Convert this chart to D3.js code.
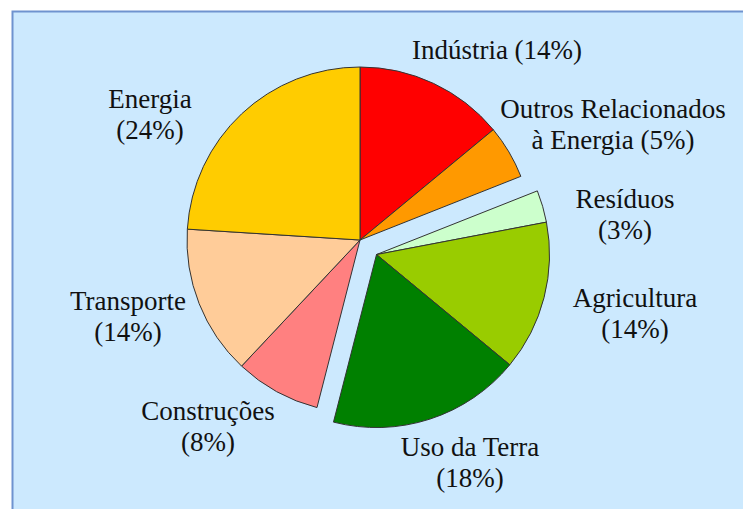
<!DOCTYPE html>
<html>
<head>
<meta charset="utf-8">
<script src="https://cdn.jsdelivr.net/npm/d3@7/dist/d3.min.js"></script>
<style>
    body { margin: 0; background: #ffffff; }
    svg { display: block; }
</style>
</head>
<body>
<div id="chart"></div>
<script>
// setores e participação (%), sentido horário a partir do topo
var sectors = ["Indústria", "Outros Relacionados à Energia", "Resíduos", "Agricultura",
               "Uso da Terra", "Construções", "Transporte", "Energia"];
var shares = [14, 5, 3, 14, 18, 8, 14, 24];
var labelLines = [
    ["Indústria (14%)"],
    ["Outros Relacionados", "à Energia (5%)"],
    ["Resíduos", "(3%)"],
    ["Agricultura", "(14%)"],
    ["Uso da Terra", "(18%)"],
    ["Construções", "(8%)"],
    ["Transporte", "(14%)"],
    ["Energia", "(24%)"]
];
// fatias destacadas (grupo agricultura / uso da terra / resíduos)
var exploded = ["Resíduos", "Agricultura", "Uso da Terra"];

var colors = ["#ff0000", "#ff9900", "#ccffcc", "#99cc00", "#008000", "#ff8080", "#ffcc99", "#ffcc00"];

// posição dos rótulos (centro, linha de base da 1a linha)
var labelPos = [
    [497, 59], [613, 118], [625, 208], [635, 307],
    [470, 456], [208, 420], [128, 310], [150, 108]
];

var width = 743, height = 509;
var cx = 360, cy = 240, radius = 173, explode = 22;

var svg = d3.select("#chart").append("svg")
    .attr("width", width)
    .attr("height", height);

svg.append("rect")
    .attr("x", 12.5)
    .attr("y", 11.5)
    .attr("width", width)
    .attr("height", height)
    .attr("fill", "#cce9fe")
    .attr("stroke", "#6f93cf")
    .attr("stroke-width", 2);

var data = sectors.map(function(d, i) {
    return {name: d, value: shares[i], color: colors[i], lines: labelLines[i], pos: labelPos[i]};
});

var pie = d3.pie()
    .sort(null)
    .value(function(d) { return d.value; });

var arcs = pie(data);

// ângulo médio do grupo destacado
var group = arcs.filter(function(a) { return exploded.indexOf(a.data.name) >= 0; });
var gStart = d3.min(group, function(a) { return a.startAngle; });
var gEnd = d3.max(group, function(a) { return a.endAngle; });
var gMid = (gStart + gEnd) / 2;
var dx = Math.sin(gMid) * explode;
var dy = -Math.cos(gMid) * explode;

var arc = d3.arc()
    .innerRadius(0)
    .outerRadius(radius);

var g = svg.append("g")
    .attr("transform", "translate(" + cx + "," + cy + ")");

g.selectAll("path.slice")
    .data(arcs)
    .enter()
    .append("path")
    .attr("class", "slice")
    .attr("transform", function(d) {
        if (exploded.indexOf(d.data.name) >= 0) {
            return "translate(" + dx + "," + dy + ")";
        }
        return null;
    })
    .attr("d", arc)
    .attr("fill", function(d) { return d.data.color; })
    .attr("stroke", "#333333")
    .attr("stroke-width", 1)
    .attr("stroke-linejoin", "round");

var labels = svg.selectAll("text.label")
    .data(data)
    .enter()
    .append("text")
    .attr("class", "label")
    .attr("text-anchor", "middle")
    .style("font-family", "Liberation Serif")
    .style("font-size", "27px")
    .attr("fill", "#111111");

labels.selectAll("tspan")
    .data(function(d) {
        return d.lines.map(function(l, i) { return {text: l, x: d.pos[0], y: d.pos[1] + i * 31}; });
    })
    .enter()
    .append("tspan")
    .attr("x", function(d) { return d.x; })
    .attr("y", function(d) { return d.y; })
    .text(function(d) { return d.text; });
</script>
</body>
</html>
